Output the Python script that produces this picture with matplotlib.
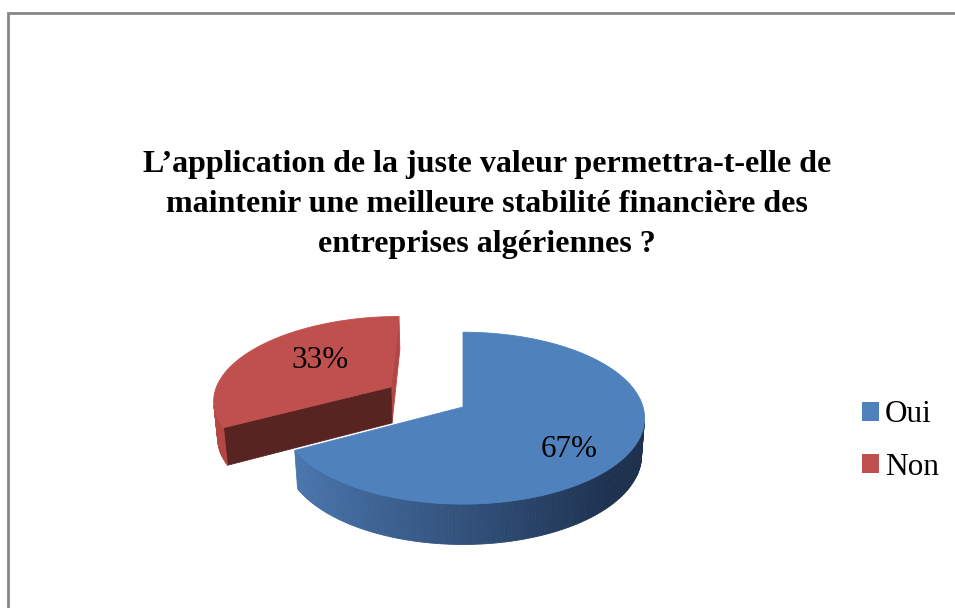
import numpy as np
import matplotlib
matplotlib.use("Agg")
import matplotlib.pyplot as plt
from matplotlib.patches import Polygon, Patch, Rectangle

# ---- data ----
labels = ["Oui", "Non"]
values = [67, 33]
pct_labels = ["67%", "33%"]
title_lines = [
    "L’application de la juste valeur permettra-t-elle de",
    "maintenir une meilleure stabilité financière des",
    "entreprises algériennes ?",
]

# ---- style ----
top_colors = [(79, 129, 189), (192, 80, 77)]
side_light = [(78, 124, 182), (180, 72, 69)]
side_dark = [(30, 50, 80), (150, 58, 56)]
# (face at the end of the sweep, face at its start)
radial_colors = [[(38, 62, 98), (38, 62, 98)], [(178, 71, 68), (87, 36, 34)]]
explode = [0.0, 0.48]
label_pos = [(0.645, 0.92), (0.51, 0.68)]   # radial factors (across, depth) of the % labels

W, H = 955, 608
fig = plt.figure(figsize=(W / 100, H / 100), dpi=100)
ax = fig.add_axes([0, 0, 1, 1])
ax.set_xlim(0, W)
ax.set_ylim(H, 0)
ax.axis("off")

# chart frame
fig.patches.append(Rectangle((7.5 / W, 1 - 700 / H), 1.2, (700 - 13.3) / H,
                             transform=fig.transFigure, fill=False,
                             edgecolor="#868686", linewidth=2.0, clip_on=False))

serif = ["Liberation Serif", "DejaVu Serif"]

# ---- simple perspective camera for the 3D pie ----
elev = np.radians(28)
azim = np.radians(0)
dist = 6.8
C = dist * np.array([-np.sin(azim) * np.cos(elev),
                     -np.cos(azim) * np.cos(elev),
                     np.sin(elev)])
fwd = -C / np.linalg.norm(C)
right = np.cross(fwd, [0, 0, 1.0])
right /= np.linalg.norm(right)
up = np.cross(right, fwd)
center_px = np.array([463.0, 407.0])
focal = 180.0 * dist
thick = 0.235


def proj(P):
    P = np.atleast_2d(P)
    d = P - C
    xc, yc, zc = d @ right, d @ up, d @ fwd
    return np.column_stack([center_px[0] + focal * xc / zc,
                            center_px[1] - focal * yc / zc]), zc


def rgb(c):
    return tuple(v / 255 for v in c)


def mix(a, b, t):
    return tuple((a[i] * (1 - t) + b[i] * t) / 255 for i in range(3))


total = float(sum(values))
start = 90.0
slices = []
for i, v in enumerate(values):
    sweep = 360.0 * v / total
    a_hi = np.radians(start)
    a_lo = np.radians(start - sweep)
    start -= sweep
    mid = 0.5 * (a_hi + a_lo)
    off = explode[i] * np.array([np.cos(mid), np.sin(mid), 0.0])
    slices.append((i, a_lo, a_hi, mid, off))

# draw the farthest slice first
slices.sort(key=lambda s: -proj(s[4])[1][0])

for i, a_lo, a_hi, mid, off in slices:
    n = max(int(np.degrees(a_hi - a_lo)), 2)
    ang = np.linspace(a_lo, a_hi, n + 1)
    rim_top = np.column_stack([np.cos(ang), np.sin(ang), np.zeros_like(ang)]) + off
    rim_bot = rim_top - [0, 0, thick]
    apex_t = off.copy()
    apex_b = off - [0, 0, thick]
    faces = []
    # curved outer wall
    for k in range(n):
        quad = np.array([rim_top[k], rim_top[k + 1], rim_bot[k + 1], rim_bot[k]])
        am = 0.5 * (ang[k] + ang[k + 1])
        normal = np.array([np.cos(am), np.sin(am), 0.0])
        cen = quad.mean(axis=0)
        if normal @ (C - cen) > 0:
            t = np.clip((1 + np.cos(am)) / 2 * 1.15, 0, 1)
            faces.append((quad, mix(side_light[i], side_dark[i], t)))
    # flat radial walls
    for a, sgn, edge_t, edge_b, col in [(a_hi, 1, rim_top[-1], rim_bot[-1], radial_colors[i][1]),
                                        (a_lo, -1, rim_top[0], rim_bot[0], radial_colors[i][0])]:
        normal = np.array([np.cos(a + sgn * np.pi / 2), np.sin(a + sgn * np.pi / 2), 0.0])
        quad = np.array([apex_t, edge_t, edge_b, apex_b])
        if normal @ (C - quad.mean(axis=0)) > 1e-9:
            faces.append((quad, rgb(col)))
    faces.sort(key=lambda f: -proj(f[0].mean(axis=0))[1][0])
    for quad, col in faces:
        pts, _ = proj(quad)
        ax.add_patch(Polygon(pts, closed=True, facecolor=col, edgecolor=col,
                             linewidth=0.6, antialiased=True))
    # top face
    top = np.vstack([apex_t, rim_top])
    pts, _ = proj(top)
    ax.add_patch(Polygon(pts, closed=True, facecolor=rgb(top_colors[i]),
                         edgecolor=rgb(top_colors[i]), linewidth=0.6))
    # percentage label on the top face
    kx, ky = label_pos[i]
    lp, _ = proj(off + np.array([kx * np.cos(mid), ky * np.sin(mid), 0.0]))
    ax.text(lp[0, 0], lp[0, 1], pct_labels[i], ha="center", va="center",
            fontsize=22.4, family=serif, color="black")

# title
for j, line in enumerate(title_lines):
    ax.text(487, 172 + 40 * j, line, ha="center", va="baseline",
            fontsize=23, fontweight="bold", family=serif, color="black")

# legend
handles = [Patch(facecolor=rgb(c), edgecolor="none") for c in top_colors]
fig.legend(handles, labels, loc="center left",
           bbox_to_anchor=(862 / W, 1 - 441 / H), bbox_transform=fig.transFigure,
           frameon=False, prop={"family": serif, "size": 22.5},
           handlelength=0.54, handleheight=0.54, handletextpad=0.2,
           labelspacing=0.75, borderpad=0, borderaxespad=0)

fig.savefig("out.png", dpi=100, facecolor="white")
